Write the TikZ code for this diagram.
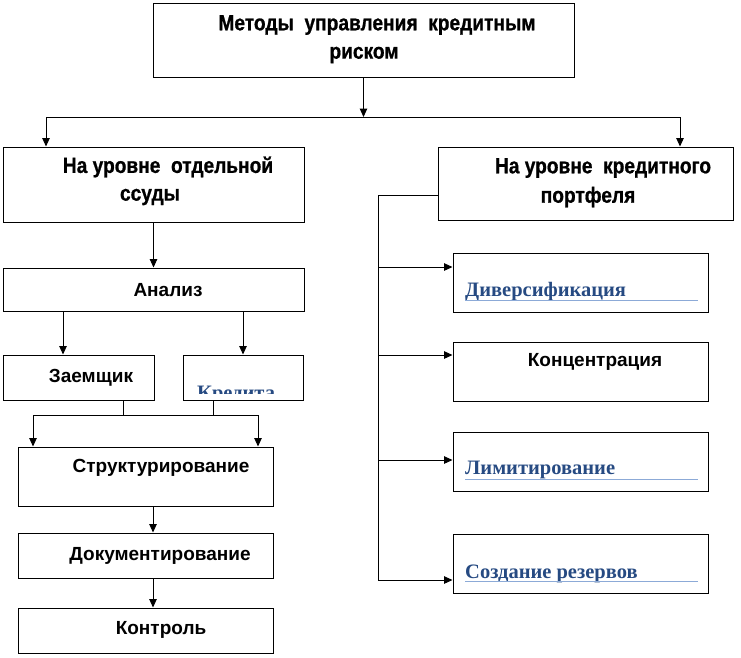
\documentclass[tikz,border=0pt]{standalone}
\usepackage{fontspec}
\setmainfont{Liberation Sans}
\newfontfamily\narrowf{Liberation Sans Bold}[FakeStretch=0.87, FakeBold=0.8]
\newfontfamily\serf{Liberation Serif}
\usetikzlibrary{arrows.meta}
\definecolor{bluetxt}{RGB}{38,74,130}
\definecolor{ulblue}{RGB}{140,170,215}
\tikzset{
  box/.style={draw, line width=1pt, rectangle, inner sep=0pt},
  arr/.style={line width=1pt, -{Triangle[length=8.5pt,width=7.5pt]}},
  ln/.style={line width=1pt},
  nt/.style={font=\narrowf\fontsize{22}{26}\selectfont, inner sep=0pt},
  wt/.style={font=\fontsize{19}{23}\selectfont\bfseries, inner sep=0pt},
  bt/.style={font=\serf\fontsize{20.5}{24}\selectfont\bfseries, text=bluetxt, inner sep=0pt, anchor=base west},
  ul/.style={draw=ulblue, line width=1pt}
}
\begin{document}
\begin{tikzpicture}[x=1pt,y=-1pt]
\useasboundingbox (0,0) rectangle (741,657);
% boxes
\node[box, minimum width=421pt, minimum height=74pt] (top) at (363.5,40) {};
\node[box, minimum width=301pt, minimum height=75pt] (L1) at (153.5,184.5) {};
\node[box, minimum width=295pt, minimum height=73pt] (R1) at (585.5,183.5) {};
\node[box, minimum width=301pt, minimum height=43pt] (An) at (153.5,289.5) {};
\node[box, minimum width=151pt, minimum height=45pt] (Zm) at (78.5,377.5) {};
\node[box, minimum width=120pt, minimum height=45pt] (Kr) at (243,377.5) {};
\node[box, minimum width=255pt, minimum height=59pt] (St) at (145.5,476.5) {};
\node[box, minimum width=255pt, minimum height=45pt] (Dk) at (145.5,555.5) {};
\node[box, minimum width=255pt, minimum height=45pt] (Ko) at (145.5,630.5) {};
\node[box, minimum width=255pt, minimum height=59pt] (Dv) at (580.5,282.5) {};
\node[box, minimum width=255pt, minimum height=59pt] (Kc) at (580.5,371.5) {};
\node[box, minimum width=255pt, minimum height=59pt] (Lm) at (580.5,461.5) {};
\node[box, minimum width=255pt, minimum height=59pt] (Sr) at (580.5,563.5) {};
% texts
\node[nt] (t1a) at (377,25) {Методы\ \ управления\ \ кредитным};
\node[nt] (t1b) at (364,55) {риском};
\node[nt] (tL1a) at (168,167) {На уровне\ \ отдельной};
\node[nt] (tL1b) at (150,197) {ссуды};
\node[nt] (tR1a) at (603,168) {На уровне\ \ кредитного};
\node[nt] (tR1b) at (588,197) {портфеля};
\node[wt] (tAn) at (168,290) {Анализ};
\node[wt] (tZm) at (91,378) {Заемщик};
\node[wt] (tSt) at (161,468) {Структурирование};
\node[wt] (tDk) at (160,556) {Документирование};
\node[wt] (tKo) at (161,630) {Контроль};
\node[wt] (tKc) at (595,362) {Концентрация};
\node[bt] (tDv) at (465,296) {Диверсификация};
\node[bt] (tLm) at (465,474) {Лимитирование};
\node[bt] (tSr) at (465,578) {Создание резервов};
\coordinate (u1a) at (465,300); \coordinate (u1b) at (698,300);
\coordinate (u2a) at (465,479); \coordinate (u2b) at (698,479);
\coordinate (u3a) at (465,581); \coordinate (u3b) at (698,581);
\draw[ul] (u1a) -- (u1b);
\draw[ul] (u2a) -- (u2b);
\draw[ul] (u3a) -- (u3b);
\begin{scope}
\clip (184,356) rectangle (302,393);
\node[bt] (tKr) at (197,399) {Кредита};
\end{scope}
% connectors top
\coordinate (hL) at (46,117);
\coordinate (hR) at (680,117);
\draw[arr] (top.south) -- (top.south |- hL);
\draw[ln] (hL) -- (hR);
\draw[arr] (hL) -- (hL |- L1.north);
\draw[arr] (hR) -- (hR |- R1.north);
% left column
\draw[arr] (L1.south) -- (An.north);
\coordinate (c1) at (63,0);
\draw[arr] (c1 |- An.south) -- (c1 |- Zm.north);
\draw[arr] (Kr.north |- An.south) -- (Kr.north);
\coordinate (zc) at (123,415);
\coordinate (kc) at (213,415);
\coordinate (j1) at (33,415);
\coordinate (j2) at (258,415);
\draw[ln] (zc |- Zm.south) -- (zc);
\draw[ln] (kc |- Kr.south) -- (kc);
\draw[ln] (j1) -- (j2);
\draw[arr] (j1) -- (j1 |- St.north);
\draw[arr] (j2) -- (j2 |- St.north);
\coordinate (c2) at (153,0);
\draw[arr] (c2 |- St.south) -- (c2 |- Dk.north);
\draw[arr] (c2 |- Dk.south) -- (c2 |- Ko.north);
% right column
\coordinate (rv) at (378,195);
\coordinate (rb) at (378,580);
\coordinate (a1) at (378,267);
\coordinate (a2) at (378,355);
\coordinate (a3) at (378,460);
\draw[ln] (R1.west |- rv) -- (rv) -- (rb);
\draw[arr] (a1) -- (a1 -| Dv.west);
\draw[arr] (a2) -- (a2 -| Kc.west);
\draw[arr] (a3) -- (a3 -| Lm.west);
\draw[arr] (rb) -- (rb -| Sr.west);
\end{tikzpicture}
\end{document}
